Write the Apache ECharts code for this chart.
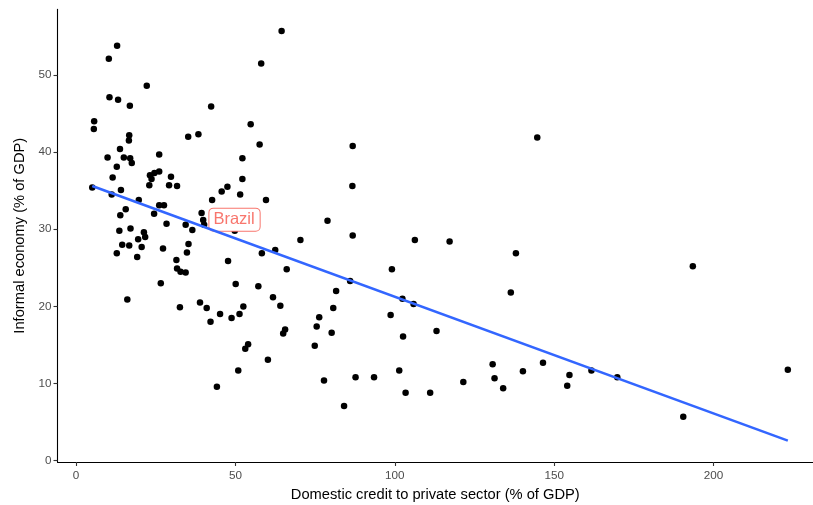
<!DOCTYPE html>
<html>
<head>
<meta charset="utf-8">
<script src="https://cdn.jsdelivr.net/npm/echarts@6/dist/echarts.min.js"></script>
<style>
html,body{margin:0;padding:0;background:#fff;}
#chart{width:813px;height:505px;}
</style>
</head>
<body>
<div id="chart"></div>
<script>
// Domestic credit to private sector (% of GDP)
const creditX = [12.9,10.3,58.1,22.2,10.5,13.2,16.9,42.4,5.7,5.6,54.8,16.7,16.6,13.8,35.2,38.4,57.6,9.9,15.0,17.0,
  17.5,12.8,26.1,52.2,11.5,23.2,24.6,26.1,23.7,23.0,29.8,29.2,31.7,52.2,47.5,45.7,51.5,5.1,14.1,11.2,
  59.6,42.7,19.7,26.1,27.6,15.6,24.5,13.9,28.4,39.4,39.9,40.2,34.4,36.5,49.8,13.6,17.1,21.3,21.7,19.5,
  14.5,16.7,20.6,27.3,35.3,34.8,12.8,19.2,58.3,31.5,47.7,31.7,32.8,34.4,26.6,50.1,57.2,16.1,32.6,38.9,
  41.0,52.5,61.8,45.2,42.2,48.8,51.3,64.1,65.0,65.6,53.1,54.0,60.2,50.9,44.2,81.6,80.7,76.3,75.5,80.2,
  74.9,77.8,87.7,84.1,64.5,86.8,86.7,144.7,78.9,70.4,86.8,106.3,117.2,138.0,62.5,66.1,193.5,99.1,136.4,102.4,
  105.9,98.7,102.6,113.1,93.5,101.4,103.4,111.1,121.5,130.7,131.3,134.0,140.2,146.5,154.8,154.1,161.7,169.8,190.5,223.3,
  86.0];
// Informal economy (% of GDP)
const informalY = [53.8,52.1,51.5,48.6,47.1,46.8,46.0,45.9,44.0,43.0,43.6,42.2,41.5,40.4,42.0,42.3,41.0,39.3,39.3,39.2,
  38.6,38.1,39.7,39.2,36.7,37.0,37.3,37.5,36.5,35.7,36.8,35.7,35.6,36.5,35.5,34.9,34.5,35.4,35.1,34.5,
  33.8,33.8,33.8,33.1,33.1,32.6,32.0,31.8,30.7,32.1,31.2,30.6,30.6,29.9,29.8,29.8,30.1,29.6,29.0,28.7,
  28.0,27.9,27.7,27.5,28.1,27.0,26.9,26.4,26.9,26.0,25.9,24.9,24.5,24.4,23.0,22.9,22.6,20.9,19.9,20.5,
  19.8,20.0,21.2,19.0,18.0,18.5,19.0,20.1,16.5,17.0,14.5,15.1,13.1,11.7,9.6,22.0,19.8,18.6,17.4,16.6,
  14.9,10.4,10.8,7.1,55.7,40.8,35.6,41.9,31.1,28.6,29.2,28.6,28.4,26.9,27.3,24.8,25.2,24.8,21.8,21.0,
  20.3,18.9,16.1,16.8,10.8,11.7,8.8,8.8,10.2,12.5,10.7,9.4,11.6,12.7,11.1,9.7,11.7,10.8,5.7,11.8,
  23.3];
// Fitted linear trend (endpoints)
const fitX = [5.1, 223.3];
const fitY = [35.6, 2.6];
// Labelled country
const labelName = 'Brazil';
const labelIndex = 51;
// Ticks
const xTicks = [0, 50, 100, 150, 200];
const yTicks = [0, 10, 20, 30, 40, 50];

const FONT = '"Liberation Sans", Arial, sans-serif';
const pts = creditX.map((x, i) => {
  const item = { value: [x, informalY[i]] };
  if (i === labelIndex) {
    item.label = {
      show: true, formatter: labelName, position: 'right', distance: 2, offset: [0, -5],
      color: '#F8766D', fontFamily: FONT, fontSize: 16.5,
      backgroundColor: '#fff', borderColor: '#F8766D', borderWidth: 1, borderRadius: 4,
      padding: [3, 5, 2, 4]
    };
  }
  return item;
});

const chart = echarts.init(document.getElementById('chart'), null, { renderer: 'canvas' });
chart.setOption({
  animation: false,
  backgroundColor: '#fff',
  grid: { left: 57.5, right: 0, top: 9.4, bottom: 43, containLabel: false, outerBoundsMode: 'none' },
  xAxis: {
    type: 'value', min: -5.8, max: 231.2,
    name: 'Domestic credit to private sector (% of GDP)', nameLocation: 'middle', nameGap: 25,
    nameTextStyle: { color: '#000', fontSize: 14.7, fontFamily: FONT },
    axisLine: { show: true, onZero: false, lineStyle: { color: '#000', width: 1.1 } },
    axisTick: { show: true, length: 4, customValues: xTicks, lineStyle: { color: '#333', width: 1.1 } },
    axisLabel: { customValues: xTicks, margin: 8, color: '#4D4D4D', fontSize: 11.7, fontFamily: FONT },
    splitLine: { show: false }
  },
  yAxis: {
    type: 'value', min: -0.17, max: 58.5,
    name: 'Informal economy (% of GDP)', nameLocation: 'middle', nameGap: 30, nameRotate: 90,
    nameTextStyle: { color: '#000', fontSize: 14.7, fontFamily: FONT },
    axisLine: { show: true, onZero: false, lineStyle: { color: '#000', width: 1.1 } },
    axisTick: { show: true, length: 4, customValues: yTicks, lineStyle: { color: '#333', width: 1.1 } },
    axisLabel: { customValues: yTicks, margin: 6, color: '#4D4D4D', fontSize: 11.7, fontFamily: FONT },
    splitLine: { show: false }
  },
  series: [
    {
      type: 'scatter', symbol: 'circle', symbolSize: 6.5,
      itemStyle: { color: '#000', opacity: 1 }, data: pts, z: 3
    },
    {
      type: 'line', data: fitX.map((x, i) => [x, fitY[i]]), symbol: 'none',
      lineStyle: { color: '#3366FF', width: 2.6 }, z: 4
    }
  ]
});
</script>
</body>
</html>
